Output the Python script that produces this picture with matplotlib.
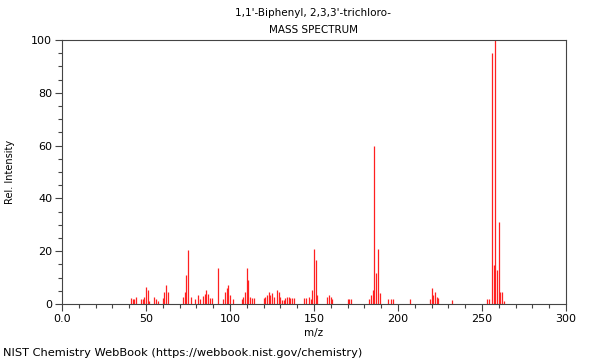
"""
Mass spectrum of 1,1'-Biphenyl, 2,3,3'-trichloro- (NIST WebBook style stick plot).
"""
import matplotlib
matplotlib.use('Agg')
import matplotlib.pyplot as plt
from matplotlib.ticker import MultipleLocator

plt.rcParams['font.family'] = 'DejaVu Sans'

title_lines = ["1,1'-Biphenyl, 2,3,3'-trichloro-", "MASS SPECTRUM"]
footer = "NIST Chemistry WebBook (https://webbook.nist.gov/chemistry)"

# peak positions (m/z) and relative intensities
mz = [41, 42, 43, 44, 47, 48, 49, 50, 51, 52, 55, 56, 57,
      60, 61, 62, 63, 72, 73, 74, 75, 77, 79, 81, 82, 84, 85, 86, 87, 88, 89,
      93, 96, 97, 98, 99, 100, 102, 107, 108, 109, 110, 111, 112, 113, 114,
      120, 121, 122, 123, 124, 125, 126, 128, 129, 130, 131, 132, 133, 134,
      135, 136, 137, 138, 144, 145, 147, 148, 149, 150, 151, 152,
      158, 159, 160, 161, 170, 171, 172, 183, 184, 185, 186, 187, 188, 189,
      194, 196, 197, 207, 219, 220, 221, 222, 223, 224, 232,
      253, 254, 256, 257, 258, 259, 260, 261, 262, 263]
intensity = [2.2, 2.0, 2.0, 2.8, 2.0, 2.0, 2.5, 6.6, 5.3, 1.0, 2.5, 2.0, 1.0,
             2.1, 4.7, 7.2, 4.7, 2.5, 4.7, 11.0, 20.4, 2.5, 1.9, 3.4, 1.9, 3.2, 3.8, 5.3, 3.8, 2.1, 2.1,
             13.5, 1.9, 4.7, 5.9, 7.2, 3.4, 1.9, 1.9, 2.8, 4.7, 13.5, 9.1, 2.8, 2.1, 2.1,
             2.1, 2.8, 3.4, 4.7, 3.4, 4.0, 2.8, 5.3, 4.7, 2.5, 1.5, 1.5, 2.1, 2.5,
             2.5, 2.1, 2.1, 2.1, 2.1, 2.1, 2.8, 2.0, 5.3, 21.0, 16.7, 3.4,
             2.5, 3.5, 2.5, 2.0, 2.0, 2.0, 2.0, 1.9, 3.4, 5.3, 60.0, 11.6, 21.0, 4.0,
             1.9, 1.9, 1.9, 2.0, 1.9, 5.9, 3.4, 4.7, 2.8, 2.1, 1.5,
             1.9, 1.9, 95.0, 14.8, 100.0, 12.9, 31.0, 4.7, 4.7, 1.3]

fig = plt.figure(figsize=(6, 3.6), dpi=100)
ax = fig.add_axes([0.1033, 0.1556, 0.84, 0.7333])

ax.vlines(mz, 0, intensity, color='#ff2020', linewidth=0.9)

ax.set_xlim(0, 300)
ax.set_ylim(0, 100)
ax.xaxis.set_major_locator(MultipleLocator(50))
ax.xaxis.set_minor_locator(MultipleLocator(10))
ax.yaxis.set_major_locator(MultipleLocator(20))
ax.yaxis.set_minor_locator(MultipleLocator(5))
ax.set_xticks(range(0, 301, 50))
ax.set_xticklabels(['0.0', '50', '100', '150', '200', '250', '300'])

ax.tick_params(axis='both', which='major', length=5, width=0.8, labelsize=8,
               color='#444444', pad=2)
ax.tick_params(axis='both', which='minor', length=3, width=0.8, color='#444444')
for spine in ax.spines.values():
    spine.set_color('#444444')
    spine.set_linewidth(0.8)

ax.set_xlabel('m/z', fontsize=7.5, labelpad=3)
ax.set_ylabel('Rel. Intensity', fontsize=7, labelpad=12)

fig.text(0.522, 1 - 13 / 360, title_lines[0], ha='center', va='center', fontsize=7.5)
fig.text(0.522, 1 - 30 / 360, title_lines[1], ha='center', va='center', fontsize=7.5)
fig.text(3 / 600, 1 - 353 / 360, footer, ha='left', va='center', fontsize=8.2)

fig.savefig('out.png', dpi=100)
plt.close(fig)
